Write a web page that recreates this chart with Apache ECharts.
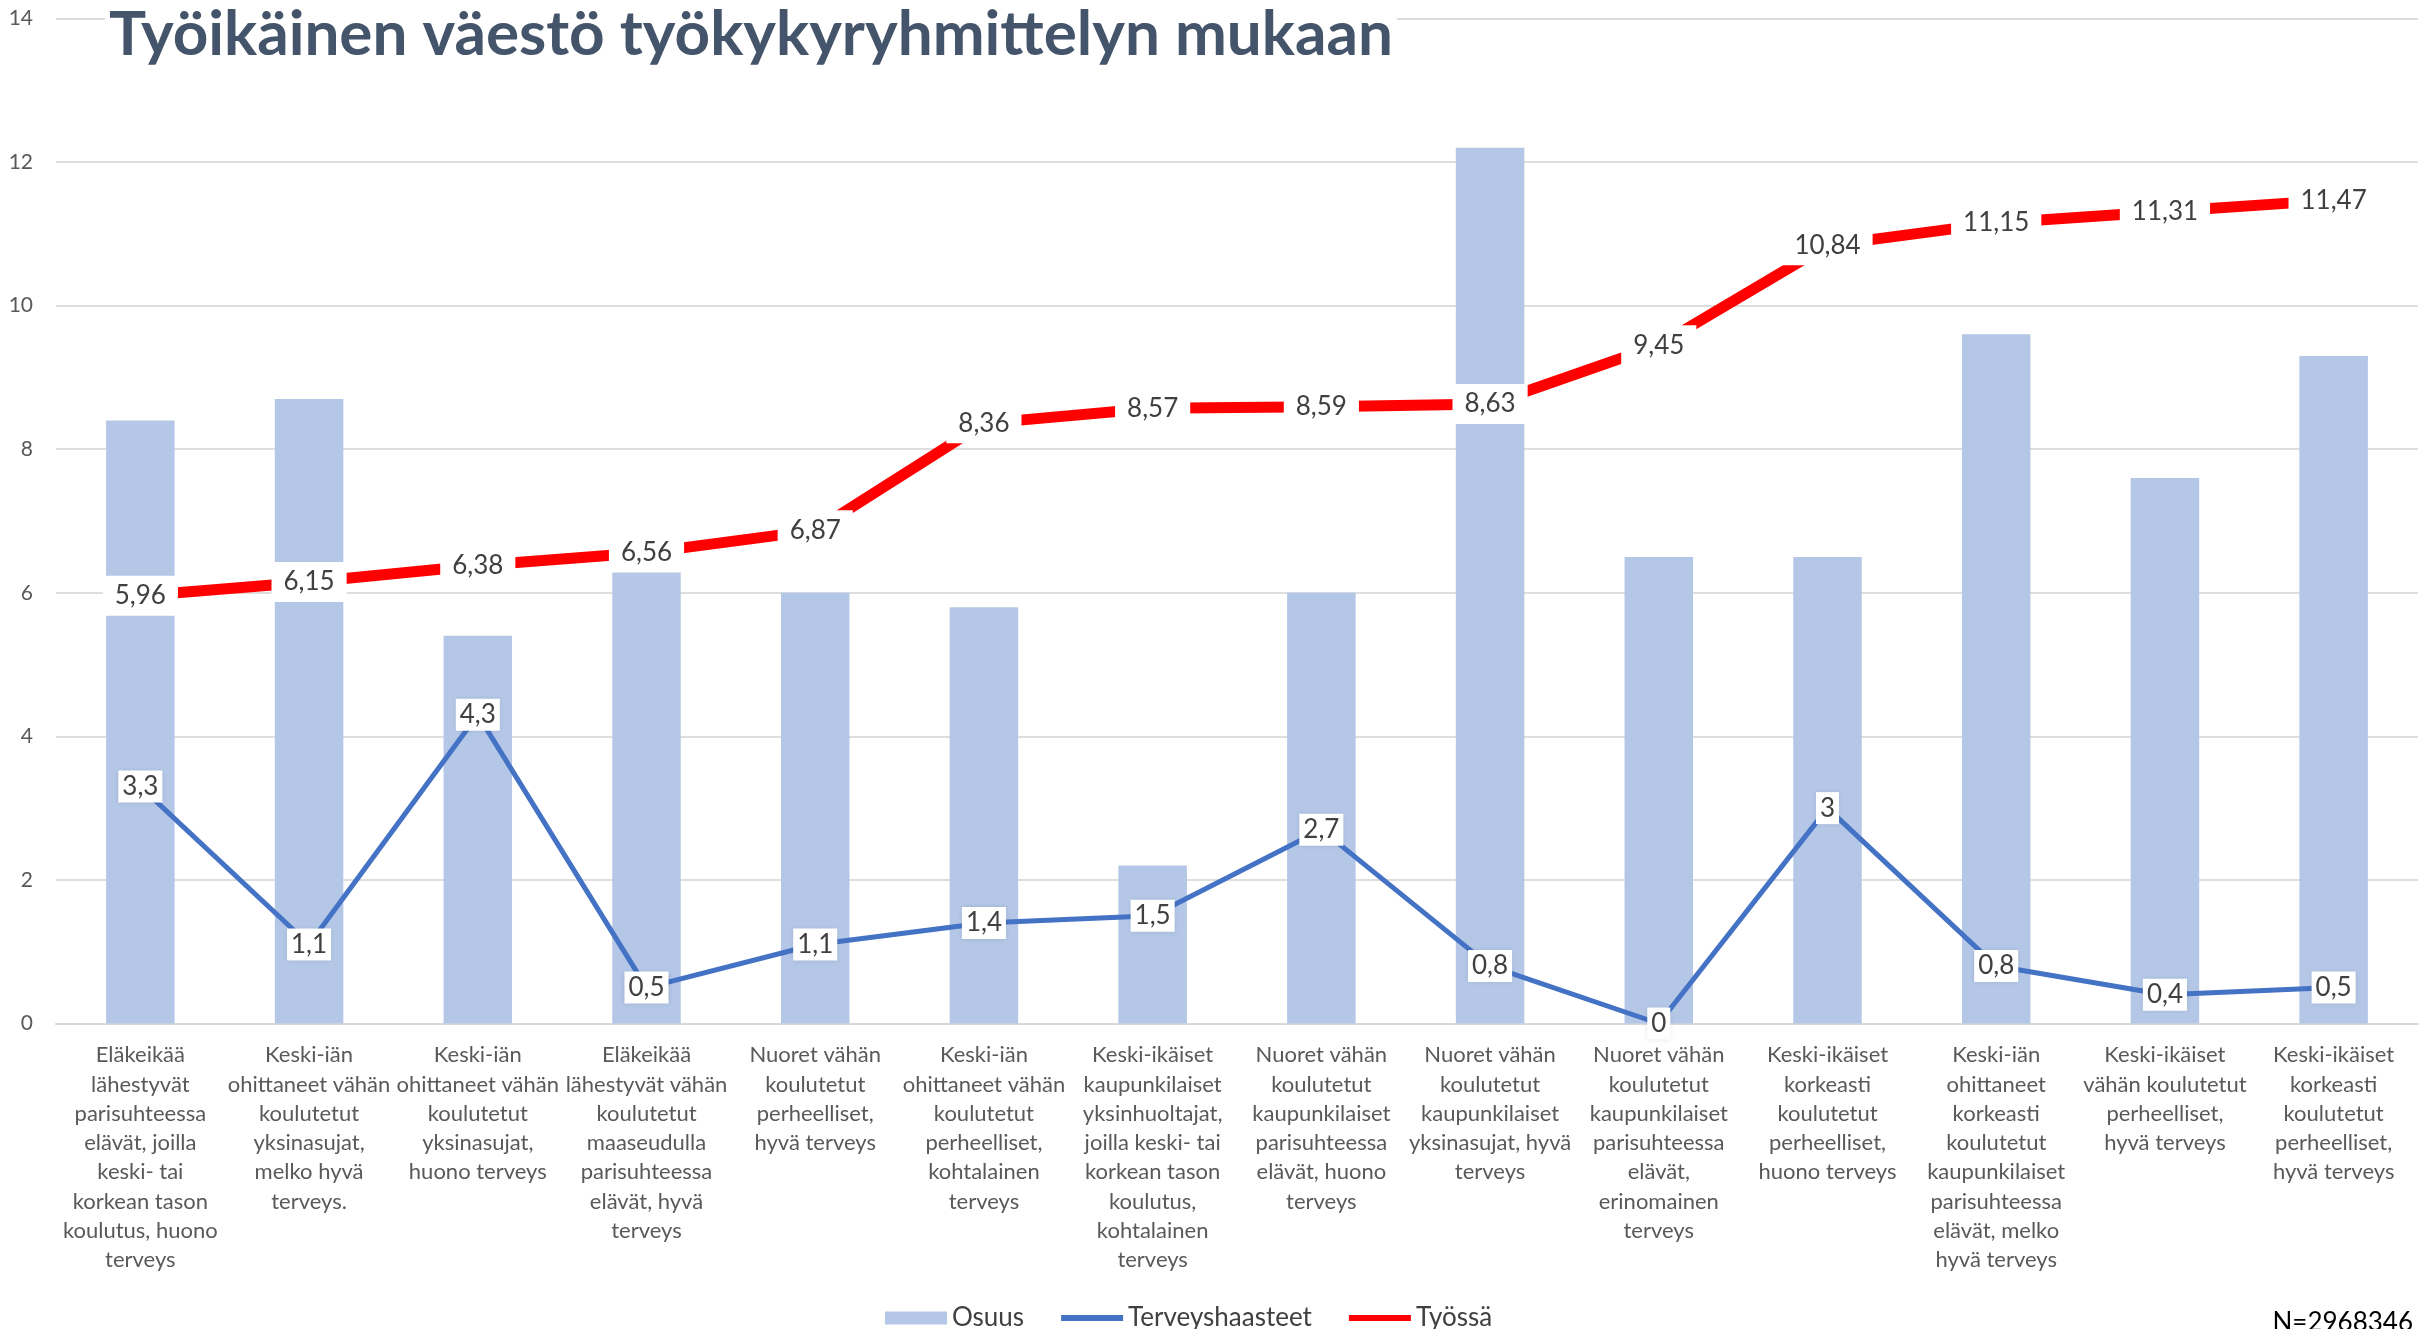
<!DOCTYPE html>
<html>
<head>
<meta charset="utf-8">
<title>Työikäinen väestö työkykyryhmittelyn mukaan</title>
<script src="https://cdn.jsdelivr.net/npm/echarts@6/dist/echarts.min.js"></script>
<style>
  html, body { margin: 0; padding: 0; background: #fff; }
  #main { width: 2435px; height: 1329px; }
</style>
</head>
<body>
<div id="main"></div>
<script>
//*************** data ***************
var categories = [
    'Eläkeikää\nlähestyvät\nparisuhteessa\nelävät, joilla\nkeski- tai\nkorkean tason\nkoulutus, huono\nterveys',
    'Keski-iän\nohittaneet vähän\nkoulutetut\nyksinasujat,\nmelko hyvä\nterveys.',
    'Keski-iän\nohittaneet vähän\nkoulutetut\nyksinasujat,\nhuono terveys',
    'Eläkeikää\nlähestyvät vähän\nkoulutetut\nmaaseudulla\nparisuhteessa\nelävät, hyvä\nterveys',
    'Nuoret vähän\nkoulutetut\nperheelliset,\nhyvä terveys',
    'Keski-iän\nohittaneet vähän\nkoulutetut\nperheelliset,\nkohtalainen\nterveys',
    'Keski-ikäiset\nkaupunkilaiset\nyksinhuoltajat,\njoilla keski- tai\nkorkean tason\nkoulutus,\nkohtalainen\nterveys',
    'Nuoret vähän\nkoulutetut\nkaupunkilaiset\nparisuhteessa\nelävät, huono\nterveys',
    'Nuoret vähän\nkoulutetut\nkaupunkilaiset\nyksinasujat, hyvä\nterveys',
    'Nuoret vähän\nkoulutetut\nkaupunkilaiset\nparisuhteessa\nelävät,\nerinomainen\nterveys',
    'Keski-ikäiset\nkorkeasti\nkoulutetut\nperheelliset,\nhuono terveys',
    'Keski-iän\nohittaneet\nkorkeasti\nkoulutetut\nkaupunkilaiset\nparisuhteessa\nelävät, melko\nhyvä terveys',
    'Keski-ikäiset\nvähän koulutetut\nperheelliset,\nhyvä terveys',
    'Keski-ikäiset\nkorkeasti\nkoulutetut\nperheelliset,\nhyvä terveys'
];
var osuus = [8.4, 8.7, 5.4, 6.3, 6.0, 5.8, 2.2, 6.0, 12.2, 6.5, 6.5, 9.6, 7.6, 9.3];
var terveyshaasteet = [3.3, 1.1, 4.3, 0.5, 1.1, 1.4, 1.5, 2.7, 0.8, 0, 3, 0.8, 0.4, 0.5];
var tyossa = [5.96, 6.15, 6.38, 6.56, 6.87, 8.36, 8.57, 8.59, 8.63, 9.45, 10.84, 11.15, 11.31, 11.47];
var yMin = 0, yMax = 14, yStep = 2;
var titleText = 'Työikäinen väestö työkykyryhmittelyn mukaan';
var noteText = 'N=2968346';

var FONT = "Lato, 'Open Sans', sans-serif";

function fi_number(v) {
    return String(v).replace('.', ',');
}

//*************** chart ***************
var chart = echarts.init(document.getElementById('main'));

var option = {
    backgroundColor: '#fff',
    animation: false,
    title: {
        text: titleText,
        left: 105,
        top: 2,
        padding: [2, 4],
        backgroundColor: '#fff',
        textStyle: {
            fontFamily: FONT,
            fontWeight: 'bold',
            fontSize: 62,
            color: '#44546A'
        }
    },
    legend: {
        top: 1298,
        left: 880,
        itemWidth: 62,
        itemHeight: 13,
        itemGap: 34,
        textStyle: { fontFamily: FONT, fontSize: 26, color: '#404040', lineHeight: 30 },
        data: [
            { name: 'Osuus', icon: 'rect' },
            { name: 'Terveyshaasteet', itemStyle: { opacity: 0 }, lineStyle: { width: 6 } },
            { name: 'Työssä', itemStyle: { opacity: 0 }, lineStyle: { width: 6 } }
        ]
    },
    grid: {
        left: 56,
        right: 17,
        top: 18.5,
        bottom: 305.5
    },
    xAxis: {
        type: 'category',
        data: categories,
        axisLine: { show: true, lineStyle: { color: '#D9D9D9', width: 2 } },
        axisTick: { show: false },
        axisLabel: {
            interval: 0,
            margin: 17,
            fontFamily: FONT,
            fontSize: 22,
            lineHeight: 29.3,
            color: '#595959',
            align: 'center'
        }
    },
    yAxis: {
        type: 'value',
        min: yMin,
        max: yMax,
        interval: yStep,
        axisLine: { show: false },
        axisTick: { show: false },
        splitLine: { lineStyle: { color: '#DEDEDE', width: 2 } },
        axisLabel: {
            margin: 23,
            fontFamily: FONT,
            fontSize: 21,
            color: '#595959'
        }
    },
    series: [
        {
            name: 'Osuus',
            type: 'bar',
            data: osuus,
            barWidth: '40.6%',
            z: 1,
            itemStyle: { color: '#B4C7E7' }
        },
        {
            name: 'Terveyshaasteet',
            type: 'line',
            data: terveyshaasteet,
            z: 3,
            symbol: 'circle',
            symbolSize: 2,
            itemStyle: { color: '#4472C4' },
            lineStyle: { color: '#4472C4', width: 5 },
            label: {
                show: true,
                position: 'inside',
                formatter: function (p) { return fi_number(p.value); },
                fontFamily: FONT,
                fontSize: 26,
                color: '#404040',
                backgroundColor: '#fff',
                padding: [4, 4, 2, 4],
                shadowColor: 'rgba(0,0,0,0.12)',
                shadowBlur: 5
            }
        },
        {
            name: 'Työssä',
            type: 'line',
            data: tyossa,
            z: 4,
            symbol: 'circle',
            symbolSize: 2,
            itemStyle: { color: '#FF0000' },
            lineStyle: { color: '#FF0000', width: 11 },
            label: {
                show: true,
                position: 'inside',
                formatter: function (p) { return fi_number(p.value); },
                fontFamily: FONT,
                fontSize: 26,
                color: '#404040',
                backgroundColor: '#fff',
                padding: [8, 12, 6, 12]
            }
        }
    ],
    graphic: [
        {
            type: 'text',
            right: 22,
            top: 1310,
            style: {
                text: noteText,
                fontFamily: FONT,
                fontSize: 26,
                fill: '#000'
            }
        }
    ]
};

chart.setOption(option);
</script>
</body>
</html>
